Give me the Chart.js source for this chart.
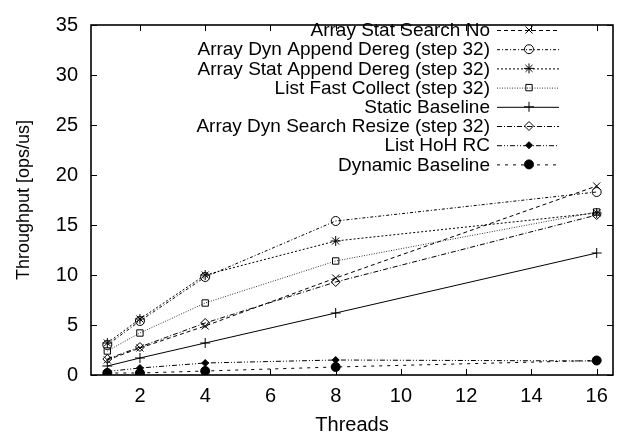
<!DOCTYPE html>
<html>
<head>
<meta charset="utf-8">
<script src="https://cdn.jsdelivr.net/npm/chart.js@4"></script>
<style>
  html, body { margin: 0; padding: 0; background: #fff; }
  #wrap { width: 621px; height: 437px; }
</style>
</head>
<body>
<div id="wrap"><canvas id="grafico"></canvas></div>
<script>
// datos
const threads = [1, 2, 4, 8, 16];
const statSearchNo = [1.5, 2.7, 4.9, 9.7, 18.9];
const dynAppendDereg = [3.0, 5.4, 9.8, 15.4, 18.3];
const statAppendDereg = [3.2, 5.6, 10.0, 13.4, 16.2];
const listFastCollect = [2.4, 4.2, 7.2, 11.4, 16.3];
const staticBaseline = [0.9, 1.7, 3.2, 6.2, 12.2];
const dynSearchResize = [1.6, 2.8, 5.2, 9.3, 16.0];
const listHoHRC = [0.35, 0.7, 1.2, 1.5, 1.4];
const dynamicBaseline = [0.2, 0.2, 0.4, 0.8, 1.45];

const seriesNames = [
    'Array Stat Search No',
    'Array Dyn Append Dereg (step 32)',
    'Array Stat Append Dereg (step 32)',
    'List Fast Collect (step 32)',
    'Static Baseline',
    'Array Dyn Search Resize (step 32)',
    'List HoH RC',
    'Dynamic Baseline'
];
const xTicks = [2, 4, 6, 8, 10, 12, 14, 16];
const yTicks = [0, 5, 10, 15, 20, 25, 30, 35];

const FONT = 'Liberation Sans, Arial, Helvetica, sans-serif';
const FSIZE = 20;

function serie(label, values, dash, style, radius, fill, color) {
    return {
        label: label,
        data: threads.map((t, i) => ({x: t, y: values[i]})),
        borderColor: color || '#000',
        borderWidth: 1,
        borderDash: dash,
        pointStyle: style,
        pointRadius: radius,
        pointBorderColor: '#000',
        pointBorderWidth: 1,
        pointBackgroundColor: fill ? '#000' : 'rgba(0,0,0,0)',
        tension: 0,
        fill: false
    };
}

const datasets = [
    serie(seriesNames[0], statSearchNo, [4, 3], 'crossRot', 5, false),
    serie(seriesNames[1], dynAppendDereg, [3, 2, 1, 2], 'circle', 4.5, false),
    serie(seriesNames[2], statAppendDereg, [2, 2], 'star', 5, false),
    serie(seriesNames[3], listFastCollect, [1, 1.5], 'rect', 4.5, false, '#333'),
    serie(seriesNames[4], staticBaseline, [], 'cross', 5, false),
    serie(seriesNames[5], dynSearchResize, [5, 2, 1, 2], 'rectRot', 4.5, false),
    serie(seriesNames[6], listHoHRC, [5, 2, 1, 2, 1, 2], 'rectRot', 3.5, true),
    serie(seriesNames[7], dynamicBaseline, [3, 5], 'circle', 4.5, true)
];

// marco, marcas de ejes hacia dentro y leyenda estilo gnuplot
const gnuplotPlugin = {
    id: 'gnuplot',
    afterDatasetsDraw(chart) {
        const ctx = chart.ctx;
        const a = chart.chartArea;
        const xs = chart.scales.x, ys = chart.scales.y;
        ctx.save();
        ctx.strokeStyle = '#000';
        ctx.lineWidth = 1;
        ctx.setLineDash([]);
        ctx.beginPath();
        xTicks.forEach(v => {
            const px = Math.round(xs.getPixelForValue(v)) + 0.5;
            ctx.moveTo(px, a.bottom); ctx.lineTo(px, a.bottom - 6);
            ctx.moveTo(px, a.top); ctx.lineTo(px, a.top + 6);
        });
        yTicks.forEach(v => {
            const py = Math.round(ys.getPixelForValue(v)) + 0.5;
            ctx.moveTo(a.left, py); ctx.lineTo(a.left + 6, py);
            ctx.moveTo(a.right, py); ctx.lineTo(a.right - 6, py);
        });
        ctx.stroke();
        ctx.lineWidth = 1.6;
        ctx.strokeRect(a.left, a.top, a.right - a.left, a.bottom - a.top);

        // leyenda
        ctx.font = '19px ' + FONT;
        ctx.fillStyle = '#000';
        ctx.textAlign = 'right';
        ctx.textBaseline = 'middle';
        chart.data.datasets.forEach((ds, i) => {
            const y = 30 + i * 19.2;
            ctx.fillText(ds.label, 490, y + 1);
            ctx.strokeStyle = ds.borderColor;
            ctx.lineWidth = 1;
            ctx.setLineDash(ds.borderDash);
            ctx.beginPath();
            ctx.moveTo(497, y + 0.5);
            ctx.lineTo(559, y + 0.5);
            ctx.stroke();
            ctx.setLineDash([]);
            ctx.strokeStyle = '#000';
            ctx.fillStyle = ds.pointBackgroundColor;
            Chart.helpers.drawPoint(ctx, {
                pointStyle: ds.pointStyle,
                radius: ds.pointRadius,
                rotation: 0,
                borderWidth: 1
            }, 529, y);
            ctx.fillStyle = '#000';
        });
        ctx.restore();
    }
};

document.addEventListener('DOMContentLoaded', function () {
    const ctx = document.getElementById('grafico').getContext('2d');
    new Chart(ctx, {
        type: 'line',
        data: { datasets: datasets },
        options: {
            responsive: true,
            maintainAspectRatio: false,
            animation: false,
            layout: { padding: { top: 13, right: 8, left: 0, bottom: 0 } },
            plugins: {
                legend: { display: false },
                tooltip: { enabled: false }
            },
            scales: {
                x: {
                    type: 'linear',
                    min: 0.5,
                    max: 16.5,
                    afterBuildTicks: s => { s.ticks = xTicks.map(v => ({value: v})); },
                    afterFit: s => { s.height = 62; },
                    grid: { display: false, drawTicks: false },
                    border: { display: false },
                    ticks: { color: '#000', font: { size: FSIZE, family: FONT }, padding: 9, maxRotation: 0 },
                    title: { display: true, text: 'Threads', color: '#000', font: { size: FSIZE, family: FONT }, padding: { top: 1, bottom: 0 } }
                },
                y: {
                    type: 'linear',
                    min: 0,
                    max: 35,
                    afterBuildTicks: s => { s.ticks = yTicks.map(v => ({value: v})); },
                    afterFit: s => { s.width = 91; },
                    grid: { display: false, drawTicks: false },
                    border: { display: false },
                    ticks: { color: '#000', font: { size: FSIZE, family: FONT }, padding: 13 },
                    title: { display: true, text: 'Throughput [ops/us]', color: '#000', font: { size: 18, family: FONT }, padding: { top: 13, bottom: 0 } }
                }
            }
        },
        plugins: [gnuplotPlugin]
    });
});
</script>
</body>
</html>
